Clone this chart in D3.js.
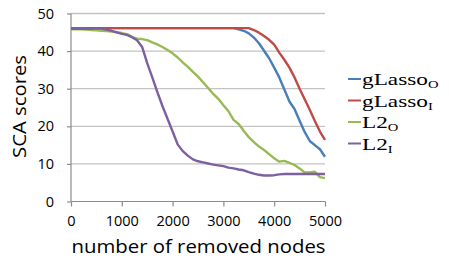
<!DOCTYPE html>
<html>
<head>
<meta charset="utf-8">
<script src="https://d3js.org/d3.v7.min.js"></script>
<style>
  body { margin: 0; background: #fff; }
</style>
</head>
<body>
<div id="chart"></div>
<script>
"use strict"

// number of removed nodes (x)
var removidos = [0, 100, 200, 300, 400, 500, 600, 700, 800, 900,
  1000, 1100, 1200, 1300, 1400, 1500, 1600, 1700, 1800, 1900,
  2000, 2100, 2200, 2300, 2400, 2500, 2600, 2700, 2800, 2900,
  3000, 3100, 3200, 3300, 3400, 3500, 3600, 3700, 3800, 3900,
  4000, 4100, 4200, 4300, 4400, 4500, 4600, 4700, 4800, 4900, 5000];

// SCA scores
var gLassoO = [46.1, 46.1, 46.1, 46.1, 46.1, 46.1, 46.1, 46.1, 46.1, 46.1,
  46.1, 46.1, 46.1, 46.1, 46.1, 46.1, 46.1, 46.1, 46.1, 46.1,
  46.1, 46.1, 46.1, 46.1, 46.1, 46.1, 46.1, 46.1, 46.1, 46.1,
  46.1, 46.1, 46.1, 45.8, 45.4, 44.7, 43.6, 42.1, 40.1, 38.1,
  35.6, 33.0, 29.8, 26.6, 24.6, 21.5, 18.5, 16.1, 15.0, 13.9, 11.9];

var gLassoI = [46.1, 46.1, 46.1, 46.1, 46.1, 46.1, 46.1, 46.1, 46.1, 46.1,
  46.1, 46.1, 46.1, 46.1, 46.1, 46.1, 46.1, 46.1, 46.1, 46.1,
  46.1, 46.1, 46.1, 46.1, 46.1, 46.1, 46.1, 46.1, 46.1, 46.1,
  46.1, 46.1, 46.1, 46.1, 46.1, 46.1, 45.6, 44.9, 44.0, 43.0,
  41.7, 39.6, 37.7, 35.6, 33.0, 30.0, 27.2, 24.4, 21.4, 18.6, 16.4];

var L2O = [45.8, 45.8, 45.8, 45.7, 45.6, 45.5, 45.4, 45.3, 45.2, 45.0,
  44.8, 44.5, 43.8, 43.3, 43.2, 42.9, 42.3, 41.8, 41.1, 40.3,
  39.4, 38.3, 37.0, 35.8, 34.5, 33.2, 31.7, 30.2, 28.6, 27.3,
  25.6, 24.0, 21.7, 20.6, 18.8, 17.1, 15.8, 14.6, 13.7, 12.6,
  11.5, 10.6, 10.8, 10.3, 9.7, 8.8, 7.7, 7.7, 7.9, 6.5, 6.2];

var L2I = [45.9, 45.9, 45.9, 45.9, 45.9, 46.0, 46.0, 45.7, 45.4, 45.0,
  44.6, 44.3, 43.7, 42.9, 41.1, 36.8, 33.0, 29.1, 25.4, 22.0,
  18.6, 15.2, 13.4, 12.2, 11.2, 10.7, 10.4, 10.1, 9.8, 9.6,
  9.4, 9.0, 8.8, 8.5, 8.3, 7.8, 7.4, 7.1, 6.9, 6.9,
  7.0, 7.2, 7.3, 7.3, 7.3, 7.3, 7.3, 7.3, 7.3, 7.3, 7.3];

var nomes = ["gLasso", "gLasso", "L2", "L2"];
var subscritos = ["O", "I", "O", "I"];
var series = [gLassoO, gLassoI, L2O, L2I];
var cores = ["#4a7ebb", "#be4b48", "#98b954", "#7d60a0"];

var xTicks = [0, 1000, 2000, 3000, 4000, 5000];
var yTicks = [0, 10, 20, 30, 40, 50];

var larguraSVG = 449, alturaSVG = 259;
var margin = {top: 13.5, left: 71, right: 124, bottom: 57.5};
var larguraVis = larguraSVG - margin.left - margin.right,
    alturaVis = alturaSVG - margin.top - margin.bottom;

var svg = d3.select("#chart").append("svg")
  .attr("width", larguraSVG)
  .attr("height", alturaSVG);

var grafico = svg.append("g")
  .attr("transform", "translate(" + margin.left + "," + margin.top + ")");

var x = d3.scaleLinear().domain([0, 5000]).range([0, larguraVis]);
var y = d3.scaleLinear().domain([0, 50]).range([alturaVis, 0]);

// grid
grafico.selectAll(".grid")
  .data(yTicks.slice(1))
  .enter().append("line")
  .attr("x1", 0).attr("x2", larguraVis)
  .attr("y1", d => y(d)).attr("y2", d => y(d))
  .style("stroke", "#c3c3c3")
  .style("stroke-width", 1.3);

// eixos
var eixoY = grafico.append("g")
  .call(d3.axisLeft(y).tickValues(yTicks).tickSize(4).tickPadding(13));
var eixoX = grafico.append("g")
  .attr("transform", "translate(0," + alturaVis + ")")
  .call(d3.axisBottom(x).tickValues(xTicks).tickFormat(d3.format("d"))
    .tickSize(5).tickPadding(9));

[eixoY, eixoX].forEach(function(e) {
  e.select(".domain").style("stroke", "#8c8c8c").style("stroke-width", 1.2);
  e.selectAll(".tick line").style("stroke", "#8c8c8c").style("stroke-width", 1.2);
  e.selectAll(".tick text")
    .style("font-family", "'Open Sans', sans-serif")
    .style("font-size", "14.5px")
    .style("fill", "#000");
});
eixoX.select(".domain").attr("d", "M0.5,0H" + larguraVis);
eixoY.select(".domain").attr("d", "M0,0V" + alturaVis);

// linhas
var linha = d3.line()
  .x((d, i) => x(removidos[i]))
  .y(d => y(d));

series.forEach(function(s, k) {
  grafico.append("path")
    .datum(s)
    .attr("d", linha)
    .style("fill", "none")
    .style("stroke", cores[k])
    .style("stroke-width", 2.4)
    .style("stroke-linejoin", "round");
});

// titulos dos eixos
svg.append("text")
  .attr("x", margin.left + 0.5).attr("y", 253)
  .attr("textLength", 254).attr("lengthAdjust", "spacingAndGlyphs")
  .style("font-family", "'Open Sans', sans-serif")
  .style("font-size", "18px")
  .text("number of removed nodes");

svg.append("text")
  .attr("transform", "translate(25.5,106.5) rotate(-90)")
  .attr("text-anchor", "middle")
  .attr("textLength", 103).attr("lengthAdjust", "spacingAndGlyphs")
  .style("font-family", "'Open Sans', sans-serif")
  .style("font-size", "18px")
  .text("SCA scores");

// legenda
var legenda = svg.selectAll(".leg")
  .data(nomes)
  .enter().append("g")
  .attr("transform", (d, i) => "translate(348," + (79 + i * 21.5) + ")");

legenda.append("line")
  .attr("x1", 0).attr("x2", 13)
  .style("stroke", (d, i) => cores[i])
  .style("stroke-width", 2);

var rotulo = legenda.append("text")
  .attr("transform", "translate(14,6) scale(1.33,1)")
  .style("font-family", "'Liberation Serif', serif")
  .style("font-size", "17.5px");
rotulo.append("tspan").text(d => d);
rotulo.append("tspan")
  .attr("dy", 3)
  .style("font-size", "11px")
  .text((d, i) => subscritos[i]);
</script>
</body>
</html>
